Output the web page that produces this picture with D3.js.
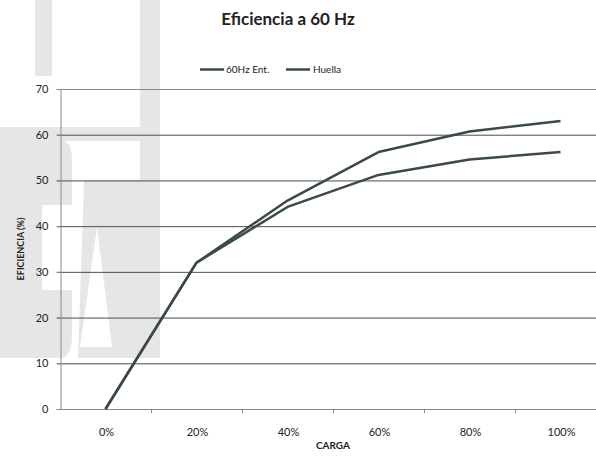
<!DOCTYPE html>
<html>
<head>
<meta charset="utf-8">
<script src="https://cdn.jsdelivr.net/npm/d3@7"></script>
<style>
  html, body { margin: 0; padding: 0; background: #fff; }
  svg { display: block; }
  text { font-family: Lato, "Open Sans", sans-serif; fill: #222; }
</style>
</head>
<body>
<svg id="chart" width="596" height="460"></svg>
<script>
// Load categories (x axis)
const categories = ["0%", "20%", "40%", "60%", "80%", "100%"];
// Efficiency (%) per load step
const ent60Hz = [0, 32, 45.6, 56.2, 60.7, 63.0];
const huella  = [0, 32, 44.2, 51.2, 54.6, 56.2];
const seriesNames = ["60Hz Ent.", "Huella"];
const yTicks = [0, 10, 20, 30, 40, 50, 60, 70];

const svg = d3.select("#chart");
const W = 596, H = 460;
const plot = { left: 60, right: 606, top: 89, bottom: 409 };
const lineColor = "#3a4a44";

// light grey logo sitting behind the chart
const logo = svg.append("g").attr("fill", "#e6e6e6");
logo.append("rect").attr("x", 35).attr("y", 0).attr("width", 17).attr("height", 76);
logo.append("rect").attr("x", 140).attr("y", 0).attr("width", 20).attr("height", 358);
logo.append("rect").attr("x", 0).attr("y", 127).attr("width", 160).attr("height", 14);
logo.append("path")
  .attr("d", "M0,141 H62 Q72,141 72,160 V205 H42 V290 H72 V335 Q72,358 60,358 H0 Z");
logo.append("path")
  .attr("fill-rule", "evenodd")
  .attr("d", "M78,358 L84,180 H140 V358 Z M97,227 L80,347 H112 Z");

const x = d3.scaleBand().domain(categories).range([plot.left, plot.right]);
const y = d3.scaleLinear().domain([0, 70]).range([plot.bottom, plot.top]);

// horizontal gridlines
svg.append("g")
  .selectAll("line")
  .data(yTicks.filter(d => d > 0))
  .join("line")
  .attr("x1", plot.left - 3).attr("x2", W)
  .attr("y1", d => y(d) + 0.5).attr("y2", d => y(d) + 0.5)
  .attr("stroke", d => d === 70 ? "#8a8a8a" : "#4d4d4d")
  .attr("stroke-width", 1);

// y axis
const yAxis = svg.append("g")
  .attr("transform", `translate(${plot.left + 0.5},0)`)
  .call(d3.axisLeft(y).tickValues(yTicks).tickSize(4).tickPadding(8));
yAxis.select(".domain").attr("stroke", "#8a8a8a");
yAxis.selectAll(".tick line").attr("stroke", "#8a8a8a");
yAxis.selectAll("text").attr("font-size", 11).attr("fill", "#333")
  .style("font-family", "Lato, sans-serif");

// x axis with ticks on category boundaries
const xAxis = svg.append("g")
  .attr("transform", `translate(0,${plot.bottom + 0.5})`)
  .call(d3.axisBottom(x).tickSize(0).tickPadding(19));
xAxis.select(".domain").attr("stroke", "#8a8a8a").attr("d", `M${plot.left},0H${W}`);
xAxis.selectAll("text").attr("font-size", 11).attr("fill", "#333")
  .style("font-family", "Lato, sans-serif");
xAxis.selectAll(".tick").attr("transform", d => `translate(${x(d) + x.bandwidth() / 2 + 1},0)`);
svg.append("g")
  .selectAll("line")
  .data(categories.slice(1))
  .join("line")
  .attr("x1", d => x(d) + 0.5).attr("x2", d => x(d) + 0.5)
  .attr("y1", plot.bottom).attr("y2", plot.bottom + 4)
  .attr("stroke", "#8a8a8a");

// series lines
const line = d3.line()
  .x((d, i) => x(categories[i]) + x.bandwidth() / 2)
  .y(d => y(d));
[ent60Hz, huella].forEach(values => {
  svg.append("path")
    .datum(values)
    .attr("d", line)
    .attr("fill", "none")
    .attr("stroke", lineColor)
    .attr("stroke-width", 2.5)
    .attr("stroke-linejoin", "round");
});

// title
svg.append("text")
  .attr("x", 288).attr("y", 25)
  .attr("text-anchor", "middle")
  .attr("font-size", 17).attr("font-weight", "bold")
  .attr("fill", "#1a1a1a")
  .text("Eficiencia a 60 Hz");

// legend
const legendPos = [{ lx: 200, tx: 226 }, { lx: 286, tx: 313 }];
seriesNames.forEach((name, i) => {
  const p = legendPos[i];
  svg.append("line")
    .attr("x1", p.lx).attr("x2", p.lx + 24)
    .attr("y1", 69.5).attr("y2", 69.5)
    .attr("stroke", lineColor).attr("stroke-width", 2.5);
  svg.append("text")
    .attr("x", p.tx).attr("y", 73)
    .attr("font-size", 10).attr("fill", "#333")
    .text(name);
});

// axis titles
svg.append("text")
  .attr("transform", "translate(24,249) rotate(-90)")
  .attr("text-anchor", "middle")
  .attr("font-size", 9).attr("font-weight", "bold")
  .text("EFICIENCIA (%)");
svg.append("text")
  .attr("x", 333).attr("y", 449)
  .attr("text-anchor", "middle")
  .attr("font-size", 10).attr("font-weight", "bold")
  .text("CARGA");
</script>
</body>
</html>
